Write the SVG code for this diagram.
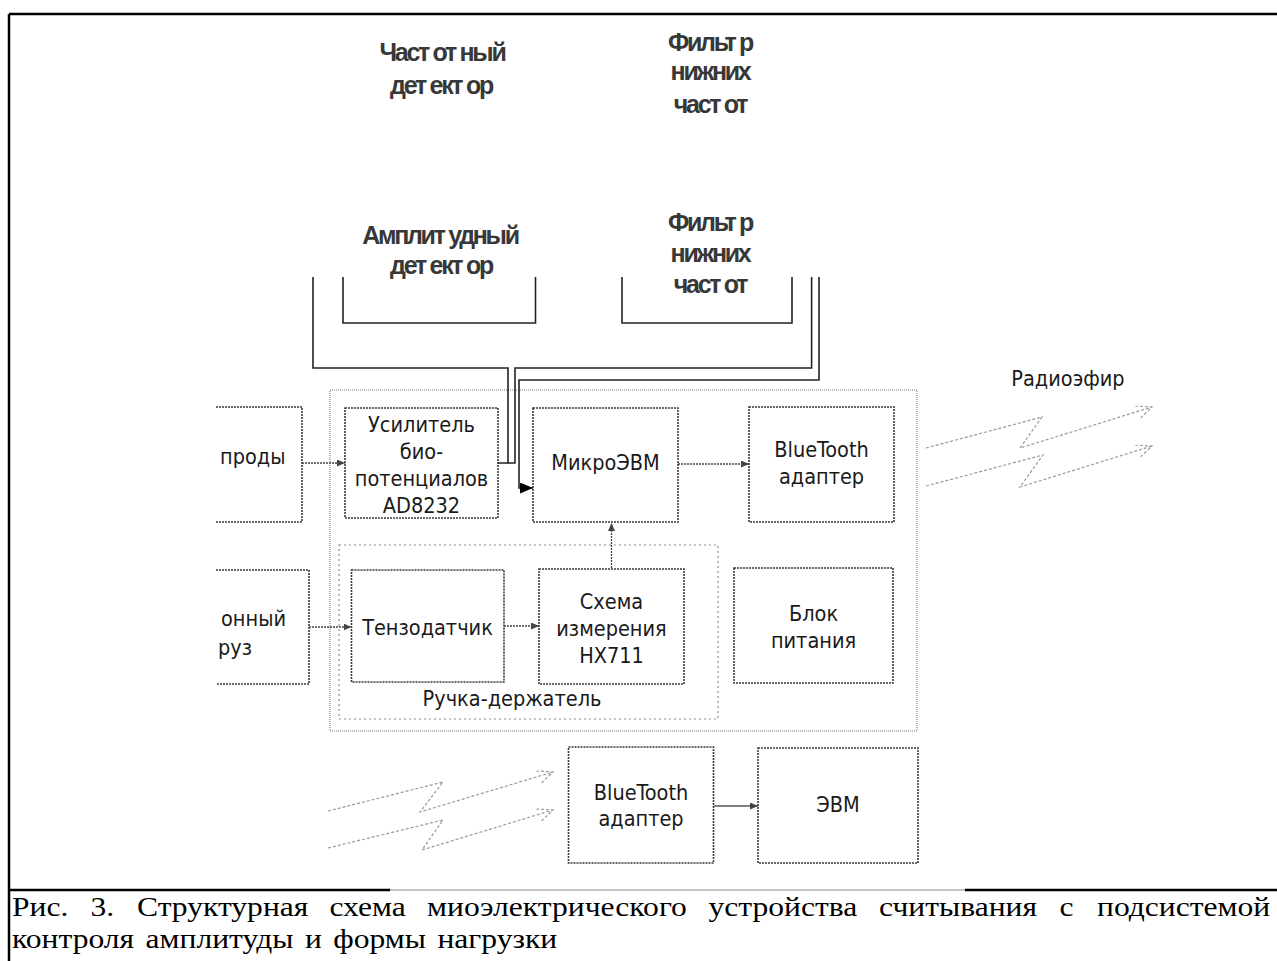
<svg xmlns="http://www.w3.org/2000/svg" width="1277" height="961" viewBox="0 0 1277 961">
<style>
.box{fill:none;stroke:#3a3a3a;stroke-width:1.6;stroke-dasharray:2 1}
.cont{fill:none;stroke:#7a7a7a;stroke-width:1.1;stroke-dasharray:1 1}
.grip{fill:none;stroke:#8a8a8a;stroke-width:1.2;stroke-dasharray:2 3}
.t{font-family:"DejaVu Sans Condensed","DejaVu Sans",sans-serif;font-size:21.5px;fill:#1a1a1a;text-anchor:middle}
.tl{font-family:"DejaVu Sans Condensed","DejaVu Sans",sans-serif;font-size:21.5px;fill:#1a1a1a}
.ta{font-family:"Liberation Sans",Arial,sans-serif;font-weight:bold;font-size:25px;fill:#383838;text-anchor:middle;letter-spacing:-2.3px}
.cap{font-family:"Liberation Serif","Times New Roman",serif;font-size:27px;fill:#000}
.wire{fill:none;stroke:#222;stroke-width:1.6}
.dl{fill:none;stroke:#444;stroke-width:1.3;stroke-dasharray:2 1}
.wave{fill:none;stroke:#999;stroke-width:1.2;stroke-dasharray:3 2}
.frame{fill:none;stroke:#000;stroke-width:2.5}
</style>
<defs>
<marker id="ah" markerUnits="userSpaceOnUse" markerWidth="9" markerHeight="8" refX="8" refY="3.5" orient="auto">
<path d="M0,0 L8,3.5 L0,7 z" fill="#444"/>
</marker>
<marker id="ahb" markerUnits="userSpaceOnUse" markerWidth="14" markerHeight="12" refX="13" refY="5.5" orient="auto">
<path d="M0,0 L13,5.5 L0,11 z" fill="#000"/>
</marker>
<marker id="aho" markerUnits="userSpaceOnUse" markerWidth="18" markerHeight="14" refX="16" refY="6" orient="auto">
<path d="M0,0 L16,6 L2,13" fill="none" stroke="#999" stroke-width="1.2" stroke-dasharray="3 2"/>
</marker>
</defs>
<rect width="1277" height="961" fill="#fff"/>

<g id="frame">
<line class="frame" x1="9" y1="14" x2="1277" y2="14"/>
<line class="frame" x1="9" y1="14" x2="9" y2="961"/>
<line x1="9" y1="890" x2="390" y2="890" stroke="#000" stroke-width="2.5"/>
<line x1="390" y1="890" x2="965" y2="890" stroke="#888" stroke-width="1.2"/>
<line x1="965" y1="890" x2="1277" y2="890" stroke="#000" stroke-width="2.5"/>
</g>

<g id="freq-detector">
<text class="ta" x="442" y="61">Част от ный</text>
<text class="ta" x="441" y="94">дет ект ор</text>
</g>
<g id="lpf-top">
<text class="ta" x="710" y="51">Фильт р</text>
<text class="ta" x="710" y="80">нижних</text>
<text class="ta" x="710" y="113">част от</text>
</g>
<g id="amp-detector">
<path class="wire" d="M343,277 V323 H535.5 V277"/>
<text class="ta" x="440" y="244">Амплит удный</text>
<text class="ta" x="441" y="274">дет ект ор</text>
</g>
<g id="lpf-bottom">
<path class="wire" d="M622,277 V323 H792 V277"/>
<text class="ta" x="710" y="231">Фильт р</text>
<text class="ta" x="710" y="262">нижних</text>
<text class="ta" x="710" y="293">част от</text>
</g>

<g id="main-container"><rect class="cont" x="330" y="390" width="587" height="341"/></g>
<g id="grip-container">
<rect class="grip" x="339" y="545" width="379" height="174"/>
<text class="t" x="512" y="706">Ручка-держатель</text>
</g>

<g id="electrodes">
<path class="box" d="M216,407 H302 V522 H216"/>
<text class="tl" x="220" y="464">проды</text>
</g>
<g id="load">
<path class="box" d="M216,570 H309 V684 H216"/>
<text class="tl" x="221" y="626">онный</text>
<text class="tl" x="218" y="655">руз</text>
</g>
<g id="amplifier">
<rect class="box" x="345" y="408" width="153" height="110"/>
<text class="t" x="421.5" y="432">Усилитель</text>
<text class="t" x="421.5" y="459">био-</text>
<text class="t" x="421.5" y="486">потенциалов</text>
<text class="t" x="421.5" y="513">AD8232</text>
</g>
<g id="micro">
<rect class="box" x="533" y="408" width="145" height="114"/>
<text class="t" x="605.5" y="470">МикроЭВМ</text>
</g>
<g id="bt-top">
<rect class="box" x="749" y="407" width="145" height="115"/>
<text class="t" x="821.5" y="457">BlueTooth</text>
<text class="t" x="821.5" y="484">адаптер</text>
</g>
<g id="tenzo">
<rect class="box" x="351.5" y="570" width="152.5" height="112"/>
<text class="t" x="427.5" y="635">Тензодатчик</text>
</g>
<g id="hx711">
<rect class="box" x="539" y="569" width="145" height="115"/>
<text class="t" x="611.5" y="609">Схема</text>
<text class="t" x="611.5" y="636">измерения</text>
<text class="t" x="611.5" y="663">HX711</text>
</g>
<g id="power">
<rect class="box" x="734" y="568" width="159" height="115"/>
<text class="t" x="813.5" y="621">Блок</text>
<text class="t" x="813.5" y="648">питания</text>
</g>
<g id="bt-bottom">
<rect class="box" x="568.5" y="747" width="145" height="116"/>
<text class="t" x="641" y="800">BlueTooth</text>
<text class="t" x="641" y="826">адаптер</text>
</g>
<g id="evm">
<rect class="box" x="758" y="748" width="160" height="115"/>
<text class="t" x="838" y="812">ЭВМ</text>
</g>
<g id="radio-label">
<text class="t" x="1068" y="386">Радиоэфир</text>
</g>

<g id="connectors">
<path class="wire" d="M313,277 V368 H508 V463 H498"/>
<path class="wire" d="M811.6,277 V368 H515 V463 H508"/>
<path class="wire" d="M819,277 V380 H519 V488 H533" marker-end="url(#ahb)"/>
<line class="dl" x1="302" y1="463" x2="345" y2="463" marker-end="url(#ah)"/>
<line class="dl" x1="678" y1="464" x2="749" y2="464" marker-end="url(#ah)"/>
<line class="dl" x1="611.5" y1="568" x2="611.5" y2="523" marker-end="url(#ah)"/>
<line class="dl" x1="309" y1="627" x2="351.5" y2="627" marker-end="url(#ah)"/>
<line class="dl" x1="504" y1="626" x2="539" y2="626" marker-end="url(#ah)"/>
<line x1="714" y1="806" x2="758" y2="806" stroke="#555" stroke-width="1.6" marker-end="url(#ah)"/>
<polyline class="wave" points="926,448 1042,417 1020,448 1152,407" marker-end="url(#aho)"/>
<polyline class="wave" points="926,486 1043,455 1020,487 1152,446" marker-end="url(#aho)"/>
<polyline class="wave" points="328,811 443,782 420,812 553,772" marker-end="url(#aho)"/>
<polyline class="wave" points="328,848 443,820 422,850 553,810" marker-end="url(#aho)"/>
</g>

<g id="caption" transform="scale(1.17,1)">
<text class="cap" y="916"><tspan x="10.3">Рис.</tspan><tspan x="77.4">3.</tspan><tspan x="117.1">Структурная</tspan><tspan x="281.6">схема</tspan><tspan x="365">миоэлектрического</tspan><tspan x="605.6">устройства</tspan><tspan x="751.3">считывания</tspan><tspan x="905.6">с</tspan><tspan x="937.6">подсистемой</tspan></text>
<text class="cap" x="10.3" y="948" word-spacing="3">контроля амплитуды и формы нагрузки</text>
</g>
</svg>
